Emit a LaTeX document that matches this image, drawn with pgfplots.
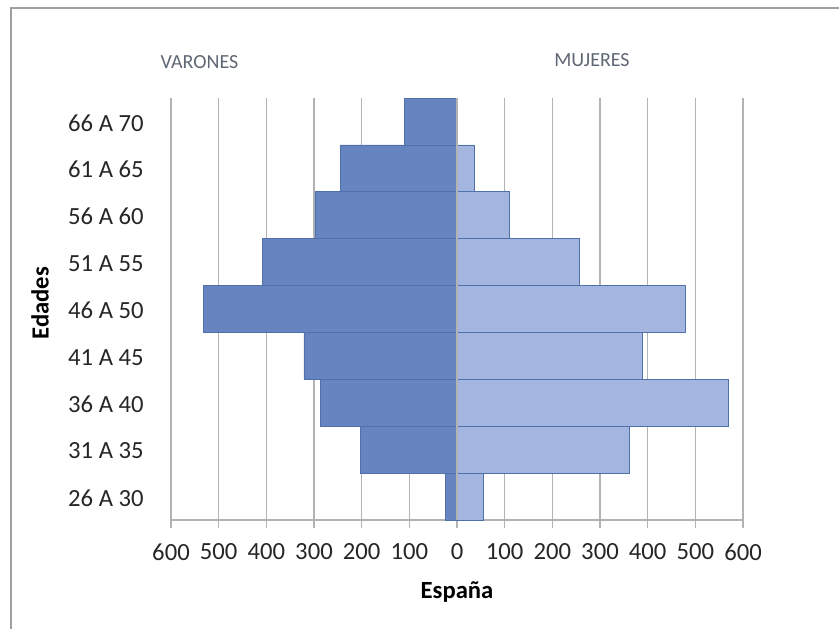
\documentclass[border=0pt]{standalone}
\usepackage{fontspec}
\setmainfont{Carlito}
\usepackage{pgfplots}
\pgfplotsset{compat=1.18}

\definecolor{menblue}{HTML}{6684BF}
\definecolor{womenblue}{HTML}{A4B6E0}
\definecolor{baredge}{HTML}{5070AA}
\definecolor{gridgray}{HTML}{B3B3B3}
\definecolor{headgray}{HTML}{5F6775}

\begin{document}
\begin{tikzpicture}
\path[use as bounding box] (0,0) rectangle (629.25pt,471.75pt);
% outer chart frame (only top and left are visible)
\draw[gray!75, line width=1.6pt] (8pt,0) -- (8pt,466pt) -- (629.25pt,466pt);

\begin{axis}[
    at={(128.25pt,81.75pt)}, anchor=south west,
    scale only axis, width=429pt, height=316.5pt,
    xbar, bar width=1, bar shift=0pt,
    xmin=-600, xmax=600, ymin=-0.5, ymax=8.5,
    xtick={-600,-500,...,600},
    xticklabel={\pgfmathparse{abs(\tick)}\pgfmathprintnumber[fixed,precision=0]{\pgfmathresult}},
    ytick={0,...,8},
    yticklabels={26 A 30,31 A 35,36 A 40,41 A 45,46 A 50,51 A 55,56 A 60,61 A 65,66 A 70},
    axis x line*=bottom, axis y line*=left,
    axis line style={gridgray, line width=0.9pt},
    xmajorgrids, major grid style={gridgray, line width=0.9pt},
    tick align=outside, major tick length=6pt,
    xtick style={gridgray, line width=0.9pt},
    ytick style={draw=none},
    /pgf/number format/assume math mode=true,
    tick label style={font=\fontsize{18.5}{20}\selectfont, text=black!85},
    xticklabel style={yshift=-8pt},
    yticklabel style={xshift=-11pt, yshift=-1pt},
    xlabel={España}, ylabel={Edades},
    label style={font=\fontsize{18.5}{20}\selectfont\bfseries},
    xlabel style={at={(axis description cs:0.5,-0.171)}, anchor=center},
    ylabel style={at={(axis description cs:-0.229,0.514)}, anchor=center},
    clip=false,
]
\addplot[fill=menblue, draw=baredge, line width=0.6pt] coordinates {
  (-25,0) (-203,1) (-287,2) (-321,3) (-531,4) (-409,5) (-298,6) (-245,7) (-110,8)};
\addplot[fill=womenblue, draw=baredge, line width=0.6pt] coordinates {
  (56,0) (362,1) (570,2) (389,3) (480,4) (257,5) (110,6) (37,7) (0,8)};
\draw[gridgray, line width=0.9pt] (axis cs:0,-0.5) -- (axis cs:0,8.5);
\end{axis}

\node[font=\fontsize{15}{17}\selectfont, text=headgray] at (149.6pt,425.25pt) {VARONES};
\node[font=\fontsize{15}{17}\selectfont, text=headgray] at (444pt,426.75pt) {MUJERES};
\end{tikzpicture}
\end{document}
